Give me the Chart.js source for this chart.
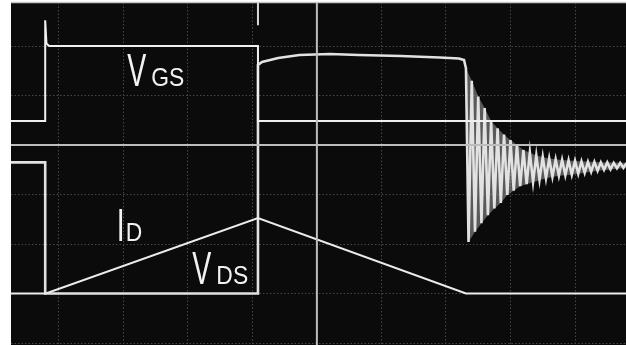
<!DOCTYPE html>
<html>
<head>
<meta charset="utf-8">
<script src="https://cdn.jsdelivr.net/npm/chart.js@4.4.1/dist/chart.umd.min.js"></script>
<style>
  html, body { margin: 0; padding: 0; background: #ffffff; }
  #scope { display: block; }
</style>
</head>
<body>
<canvas id="scope" width="626" height="345"></canvas>
<script>
// divisions on the graticule (x: time div, y: volts div)
var xTicks = [-4, -3, -2, -1, 0, 1, 2, 3, 4];
var yTicks = [-4, -3, -2, -1, 0, 1, 2];

// gate voltage trace
var vgsX = [-4.74, -4.21, -4.21, -4.19, -4.15, -0.913, -0.913, 4.80];
var vgsY = [0.485, 0.485, 2.52, 2.05, 2.00, 2.00, 0.485, 0.485];

// drain current trace
var idX = [-4.74, -4.20, -0.913, 2.31, 4.80];
var idY = [-3.00, -3.00, -1.475, -3.00, -3.00];

// drain-source voltage trace, with the ringing after turn off
var vdsX = [-4.74, -4.21, -4.21, -0.913, -0.913, -0.85, -0.60, -0.27, 0.20, 0.65, 1.30, 1.90, 2.20, 2.28, 2.31,
  2.35, 2.40, 2.45, 2.50, 2.55, 2.60, 2.65, 2.70, 2.75, 2.80, 2.85, 2.90, 2.95, 3.00, 3.05, 3.10,
  3.15, 3.20, 3.25, 3.30, 3.35, 3.40, 3.45, 3.50, 3.55, 3.60, 3.65, 3.70, 3.75, 3.80, 3.85, 3.90,
  3.95, 4.00, 4.05, 4.10, 4.15, 4.20, 4.25, 4.30, 4.35, 4.40, 4.45, 4.50, 4.55, 4.60, 4.65, 4.70, 4.75, 4.80];
var vdsY = [-0.35, -0.35, -3.00, -3.00, 1.62, 1.68, 1.76, 1.82, 1.84, 1.82, 1.80, 1.77, 1.75, 1.72, 1.55,
  -1.96, 1.30, -1.75, 0.98, -1.58, 0.75, -1.42, 0.48, -1.28, 0.34, -1.17, 0.21, -1.01, 0.10, -0.92, 0.00,
  -0.83, -0.10, -0.79, -0.15, -0.75, -0.21, -0.70, -0.24, -0.67, -0.27, -0.64, -0.29, -0.62, -0.30, -0.61, -0.31,
  -0.60, -0.32, -0.58, -0.33, -0.56, -0.34, -0.54, -0.34, -0.52, -0.35, -0.50, -0.35, -0.49, -0.36, -0.47, -0.36, -0.46, -0.36];

// envelope of the ringing (the blurred band behind the stripes)
var envHautX = [2.31, 2.40, 2.50, 2.60, 2.70, 2.80, 2.90, 3.00, 3.20, 3.40, 3.60, 3.80, 4.00, 4.40, 4.80];
var envHautY = [1.55, 1.30, 0.98, 0.75, 0.48, 0.34, 0.21, 0.10, -0.10, -0.21, -0.27, -0.30, -0.32, -0.35, -0.36];
var envBasX = [2.31, 2.35, 2.45, 2.55, 2.65, 2.75, 2.85, 2.95, 3.15, 3.35, 3.55, 3.75, 3.95, 4.35, 4.80];
var envBasY = [1.55, -1.96, -1.75, -1.58, -1.42, -1.28, -1.17, -1.01, -0.83, -0.75, -0.67, -0.62, -0.60, -0.52, -0.46];

// trigger mark at the top and the two centre cursors
var trigX = [-0.913, -0.913];
var trigY = [2.90, 2.42];
var cursorHX = [-4.74, 4.80];
var cursorHY = [0, 0];
var cursorVX = [0, 0];
var cursorVY = [2.90, -4.05];

var etiquettes = [
  { main: 'V', sub: 'GS', x: -2.94, y: 1.19, gap: 7 },
  { main: 'I', sub: 'D', x: -3.10, y: -1.94, gap: 3 },
  { main: 'V', sub: 'DS', x: -1.93, y: -2.81, gap: 7 }
];

function pts(xs, ys) {
  return xs.map(function(x, i) { return { x: x, y: ys[i] }; });
}

function trace(label, xs, ys, width, colour) {
  return {
    label: label,
    data: pts(xs, ys),
    showLine: true,
    borderColor: colour,
    borderWidth: width,
    pointRadius: 0,
    tension: 0,
    fill: false
  };
}

var fondEcran = {
  id: 'fondEcran',
  beforeDraw: function(chart) {
    var c = chart.ctx, a = chart.chartArea;
    c.save();
    c.fillStyle = '#0b0b0b';
    c.fillRect(a.left, a.top, a.right - a.left, a.bottom - a.top);
    c.strokeStyle = '#c8c8c8';
    c.lineWidth = 1.5;
    c.beginPath();
    c.moveTo(a.left, a.top - 0.5);
    c.lineTo(a.right, a.top - 0.5);
    c.stroke();
    c.restore();
  }
};

var textes = {
  id: 'textes',
  afterDatasetsDraw: function(chart) {
    var c = chart.ctx;
    var sx = chart.scales.x, sy = chart.scales.y;
    c.save();
    c.fillStyle = '#f2f2f2';
    c.textBaseline = 'alphabetic';
    etiquettes.forEach(function(e) {
      var px = sx.getPixelForValue(e.x);
      var py = sy.getPixelForValue(e.y);
      c.font = '46px "Liberation Sans", Arial, sans-serif';
      c.save();
      c.translate(px, py);
      c.scale(0.62, 1);
      c.fillText(e.main, 0, 0);
      var w = c.measureText(e.main).width * 0.62;
      c.restore();
      c.font = '26px "Liberation Sans", Arial, sans-serif';
      c.save();
      c.translate(px + w + e.gap - 2, py);
      c.scale(0.88, 1);
      c.fillText(e.sub, 0, 0);
      c.restore();
    });
    c.restore();
  }
};

var bandeHaut = trace('envHaut', envHautX, envHautY, 0, 'rgba(0,0,0,0)');
bandeHaut.fill = '+1';
bandeHaut.backgroundColor = 'rgba(170,170,170,0.5)';
var bandeBas = trace('envBas', envBasX, envBasY, 0, 'rgba(0,0,0,0)');

var ctx = document.getElementById('scope').getContext('2d');
var oscillo = new Chart(ctx, {
  type: 'scatter',
  data: {
    datasets: [
      trace('cursorH', cursorHX, cursorHY, 2, '#bdbdbd'),
      trace('cursorV', cursorVX, cursorVY, 2, '#bdbdbd'),
      trace('trig', trigX, trigY, 2, '#d8d8d8'),
      trace('ID', idX, idY, 2, '#ececec'),
      trace('VGS', vgsX, vgsY, 2, '#f0f0f0'),
      trace('VDS', vdsX, vdsY, 2.6, '#e2e2e2'),
      bandeHaut,
      bandeBas
    ]
  },
  options: {
    responsive: false,
    animation: false,
    layout: { padding: { left: 11, top: 3, right: 0, bottom: 0 } },
    plugins: {
      legend: { display: false },
      tooltip: { enabled: false },
      title: { display: false }
    },
    scales: {
      x: {
        type: 'linear',
        min: -4.74,
        max: 4.79,
        afterBuildTicks: function(axis) { axis.ticks = xTicks.map(function(v) { return { value: v }; }); },
        ticks: { display: false },
        grid: { color: '#474747', lineWidth: 1, drawTicks: false },
        border: { display: false, dash: [1.5, 2] }
      },
      y: {
        type: 'linear',
        min: -4.04,
        max: 2.87,
        afterBuildTicks: function(axis) { axis.ticks = yTicks.map(function(v) { return { value: v }; }); },
        ticks: { display: false },
        grid: { color: '#474747', lineWidth: 1, drawTicks: false },
        border: { display: false, dash: [1.5, 2] }
      }
    }
  },
  plugins: [fondEcran, textes]
});
</script>
</body>
</html>
